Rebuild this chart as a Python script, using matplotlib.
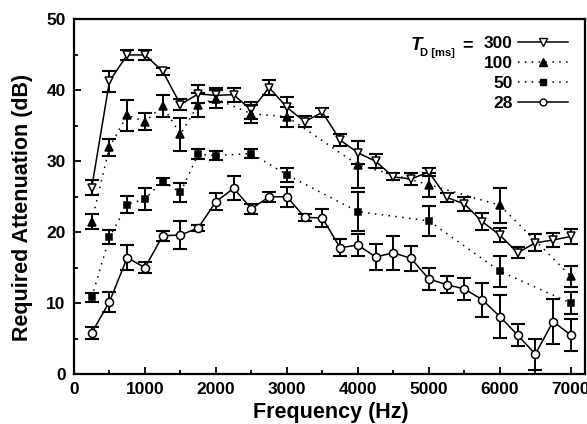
import matplotlib
matplotlib.use('Agg')
import matplotlib.pyplot as plt
from matplotlib.lines import Line2D
from matplotlib.ticker import MultipleLocator

plt.rcParams['font.family'] = ['Liberation Sans', 'DejaVu Sans']
plt.rcParams['font.weight'] = 'bold'

freq_all = [250, 500, 750, 1000, 1250, 1500, 1750, 2000, 2250, 2500, 2750, 3000, 3250, 3500,
            3750, 4000, 4250, 4500, 4750, 5000, 5250, 5500, 5750, 6000, 6250, 6500, 6750, 7000]
freq_sub = [250, 500, 750, 1000, 1250, 1500, 1750, 2000, 2500, 3000, 4000, 5000, 6000, 7000]

att_300 = [26.3, 41.3, 45.0, 45.0, 42.7, 38.0, 39.5, 39.3, 39.4, 37.2, 40.4, 37.6, 35.6, 36.9,
           33.0, 31.2, 30.0, 27.8, 27.5, 28.5, 24.9, 24.0, 21.5, 19.6, 17.1, 18.5, 18.9, 19.4]
err_300 = [1.0, 1.5, 0.7, 0.7, 0.5, 0.8, 1.3, 1.0, 1.0, 1.2, 1.0, 1.4, 0.8, 0.6,
           0.8, 1.6, 1.0, 0.5, 0.8, 0.6, 0.6, 1.0, 1.2, 1.0, 0.8, 1.2, 1.0, 1.0]

att_100 = [21.5, 32.0, 36.5, 35.6, 37.8, 33.8, 38.0, 38.8, 36.7, 36.3, 29.5, 26.7, 23.8, 13.8]
err_100 = [1.0, 1.2, 2.2, 1.2, 1.5, 2.3, 1.7, 1.3, 1.3, 1.4, 3.3, 1.7, 2.5, 1.5]

att_50 = [10.8, 19.3, 23.9, 24.7, 27.2, 25.6, 31.0, 30.8, 31.1, 28.1, 22.9, 21.6, 14.5, 10.0]
err_50 = [0.6, 1.0, 1.2, 1.5, 0.5, 1.4, 0.7, 0.6, 0.6, 1.0, 2.8, 2.1, 2.2, 1.5]

att_28 = [5.8, 10.2, 16.4, 15.0, 19.5, 19.6, 20.6, 24.3, 26.2, 23.3, 25.0, 25.0, 22.1, 22.0,
          17.8, 18.2, 16.5, 17.1, 16.3, 13.4, 12.6, 12.0, 10.5, 8.1, 5.5, 2.8, 7.4, 5.5]
err_28 = [0.8, 1.4, 1.8, 0.8, 0.7, 2.0, 0.4, 1.2, 1.7, 0.7, 0.7, 1.4, 0.5, 1.3,
          1.2, 1.6, 1.8, 2.4, 1.8, 1.5, 1.2, 1.6, 2.4, 3.0, 1.6, 2.2, 3.2, 2.2]

legend_labels = ['300', '100', '50', '28']

W, H = 587, 424
fig = plt.figure(figsize=(W / 100, H / 100), dpi=100)
ax = fig.add_axes([74 / W, 1 - 374 / H, (585 - 74) / W, (374 - 19.5) / H])

dotted = (0, (1, 3.5))
series = [
    (freq_all, att_300, err_300, dict(ls='-', marker='v', mfc='white', ms=6)),
    (freq_sub, att_100, err_100, dict(ls=dotted, marker='^', mfc='black', ms=6)),
    (freq_sub, att_50, err_50, dict(ls=dotted, marker='s', mfc='black', ms=4.8)),
    (freq_all, att_28, err_28, dict(ls='-', marker='o', mfc='white', ms=5.8)),
]

handles = []
for x, y, e, st in series:
    ax.errorbar(x, y, yerr=e, fmt='none', ecolor='black', elinewidth=1.4,
                capsize=5.2, capthick=1.5, zorder=2)
    ax.plot(x, y, color='black', lw=1.1, ls=st['ls'], zorder=3)
    ax.plot(x, y, ls='none', marker=st['marker'], mfc=st['mfc'], mec='black',
            mew=1.1, ms=st['ms'], zorder=4)
    handles.append(Line2D([], [], color='black', lw=1.1, ls=st['ls'],
                          marker=st['marker'], mfc=st['mfc'], mec='black',
                          mew=1.0, ms=st['ms'] * 0.85))

ax.set_xlim(0, 7200)
ax.set_ylim(0, 50)
ax.xaxis.set_major_locator(MultipleLocator(1000))
ax.xaxis.set_minor_locator(MultipleLocator(500))
ax.yaxis.set_major_locator(MultipleLocator(10))
ax.yaxis.set_minor_locator(MultipleLocator(5))
ax.tick_params(which='both', direction='in', top=False, right=False, width=1.3,
               labelsize=12.5)
ax.tick_params(which='major', length=5, pad=6)
ax.tick_params(which='minor', length=3)
for lab in ax.get_xticklabels() + ax.get_yticklabels():
    lab.set_fontweight('bold')
for sp in ax.spines.values():
    sp.set_linewidth(1.6)

ax.set_xlabel('Frequency (Hz)', fontsize=15.5, fontweight='bold')
ax.set_ylabel('Required Attenuation (dB)', fontsize=15.5, fontweight='bold')
ax.xaxis.set_label_coords(0.503, -0.079)
ax.yaxis.set_label_coords(-0.080, 0.47)

leg = ax.legend(handles, legend_labels, loc='upper right',
                bbox_to_anchor=(0.967, 0.953), markerfirst=False, frameon=False,
                handlelength=2.9, handletextpad=0.3, labelspacing=0.28,
                borderpad=0, borderaxespad=0, numpoints=1,
                prop={'weight': 'bold', 'size': 12.5})

ax.text(0.658, 0.914, 'T', transform=ax.transAxes, fontsize=13.5,
        fontweight='bold', fontstyle='italic', ha='left', va='baseline')
ax.text(0.677, 0.897, 'D [ms]', transform=ax.transAxes, fontsize=8,
        fontweight='bold', ha='left', va='baseline')
ax.text(0.759, 0.914, '=', transform=ax.transAxes, fontsize=13,
        fontweight='bold', ha='left', va='baseline')

fig.savefig('out.png', dpi=100)
